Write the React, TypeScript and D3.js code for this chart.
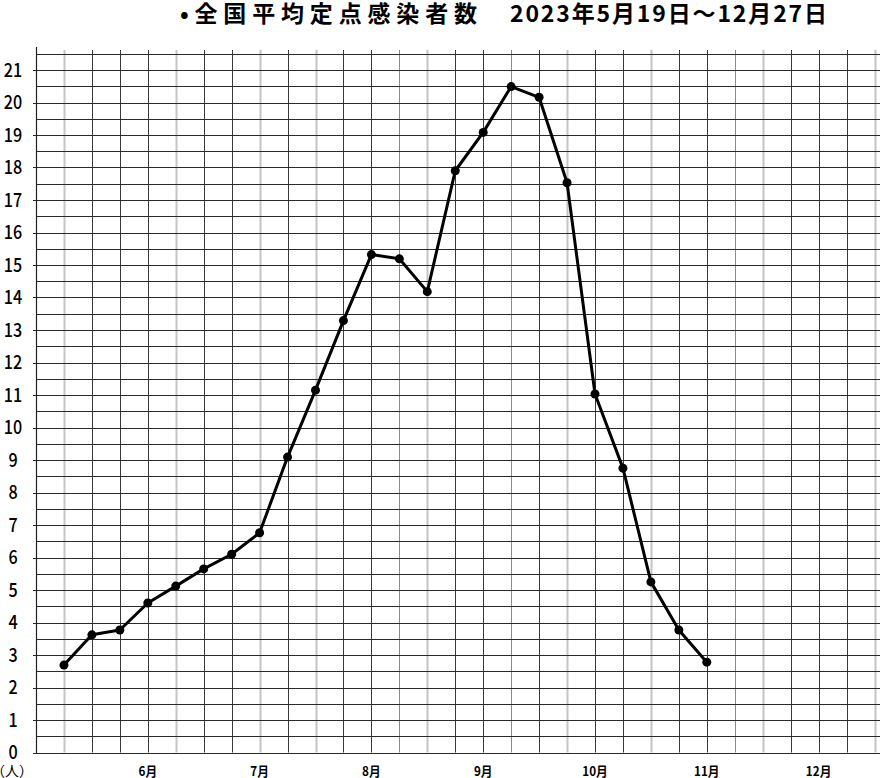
import React from "react";
import * as d3 from "d3";

const TITLE_MAIN = "•全国平均定点感染者数";
const TITLE_DATE = "2023年5月19日～12月27日";
const UNIT_LABEL = "（人）";

// weekly values (week index counted from the y axis)
const weekIndex = [1, 2, 3, 4, 5, 6, 7, 8, 9, 10, 11, 12, 13, 14, 15, 16, 17, 18, 19, 20, 21, 22, 23, 24];
const values = [2.69, 3.62, 3.77, 4.6, 5.12, 5.65, 6.1, 6.76, 9.09, 11.15, 13.29, 15.32, 15.19, 14.18, 17.9, 19.08, 20.49, 20.16, 17.53, 11.03, 8.75, 5.25, 3.77, 2.78];

const monthLabels = ["6月", "7月", "8月", "9月", "10月", "11月", "12月"];
const monthWeeks = [4, 8, 12, 16, 20, 24, 28];

const yTickValues = d3.range(0, 22);
const lightWeekLines = [1, 5, 8, 10, 14, 19, 22, 26, 30];
const midWeekLines = [13, 17, 25];

const W = 880;
const H = 778;

export default function App() {
  const x = d3.scaleLinear().domain([0, 30]).range([36, 874.5]);
  const y = d3.scaleLinear().domain([0, 21.5]).range([752.5, 53.75]);

  const hLines = d3.range(0, 22, 0.5);
  const vLines = d3.range(1, 31);

  const data = weekIndex.map((w, i) => ({ w, v: values[i] }));
  const line = d3
    .line<{ w: number; v: number }>()
    .x((d) => x(d.w))
    .y((d) => y(d.v));

  const font = "'Noto Sans CJK JP', 'Noto Sans', sans-serif";

  return (
    <svg
      width={W}
      height={H}
      style={{ position: "absolute", left: 0, top: 0, background: "#fff" }}
    >
      <rect x={0} y={0} width={W} height={H} fill="#fff" />
      {/* title */}
      <text x={180} y={22} fontFamily={font} fontSize={23} fontWeight={700} fill="#000" textLength={297} lengthAdjust="spacing">
        {TITLE_MAIN}
      </text>
      <text x={510} y={22} fontFamily={font} fontSize={23} fontWeight={700} fill="#000" textLength={317} lengthAdjust="spacing">
        {TITLE_DATE}
      </text>

      {/* vertical grid */}
      {vLines.map((k) => {
        const light = lightWeekLines.includes(k);
        const mid = midWeekLines.includes(k);
        return (
          <line
            key={"v" + k}
            x1={Math.round(x(k)) + 0.5}
            x2={Math.round(x(k)) + 0.5}
            y1={50}
            y2={752.5}
            stroke={light ? "#c4c4c4" : mid ? "#8a8a8a" : "#3a3a3a"}
            strokeWidth={light ? 2 : 1}
          />
        );
      })}

      {/* horizontal grid */}
      {hLines.map((v) => (
        <line
          key={"h" + v}
          x1={Number.isInteger(v) ? 33 : 36}
          x2={880}
          y1={Math.round(y(v)) + 0.5}
          y2={Math.round(y(v)) + 0.5}
          stroke="#2a2a2a"
          strokeWidth={1}
        />
      ))}

      {/* y axis */}
      <line x1={36.5} x2={36.5} y1={47} y2={753} stroke="#222" strokeWidth={1.2} />

      {/* y tick labels */}
      {yTickValues.map((v) => (
        <text
          key={"yl" + v}
          x={0}
          y={0}
          transform={`translate(13,${y(v) + 6.5}) scale(0.85,1)`}
          textAnchor="middle"
          fontFamily={font}
          fontSize={19}
          fontWeight={500}
          fill="#000"
        >
          {v}
        </text>
      ))}

      {/* x month labels */}
      {monthLabels.map((m, i) => (
        <text
          key={"m" + m}
          x={0}
          y={0}
          transform={`translate(${x(monthWeeks[i])},776) scale(0.9,1)`}
          textAnchor="middle"
          fontFamily={font}
          fontSize={13}
          fontWeight={700}
          fill="#000"
        >
          {m}
        </text>
      ))}
      <text x={-9} y={776} fontFamily={font} fontSize={14} fill="#000">
        {UNIT_LABEL}
      </text>

      {/* data line */}
      <path d={line(data) || ""} fill="none" stroke="#000" strokeWidth={3} strokeLinejoin="round" />
      {data.map((d) => (
        <circle key={"p" + d.w} cx={x(d.w)} cy={y(d.v)} r={4.5} fill="#000" />
      ))}
    </svg>
  );
}
